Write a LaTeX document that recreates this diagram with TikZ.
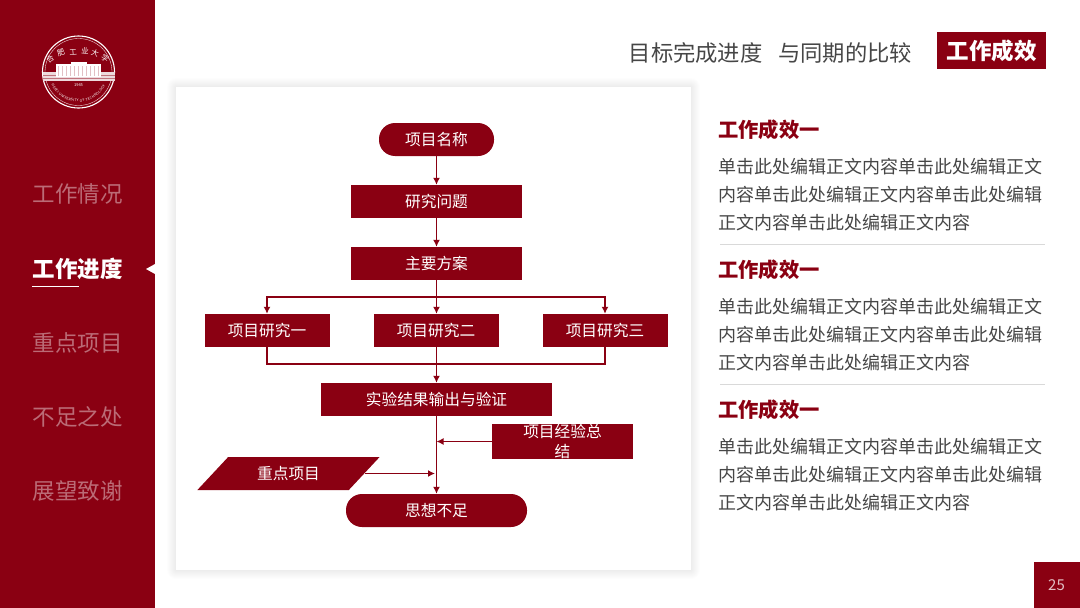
\documentclass[tikz,border=0pt]{standalone}
\usepackage{fontspec}
\setmainfont{Noto Sans CJK SC}
\usepackage{tikz}
\usetikzlibrary{shapes,arrows.meta,positioning,calc,decorations.text}
\definecolor{primaryred}{RGB}{138,0,18}
\definecolor{bodygray}{RGB}{70,70,70}
\tikzset{
    flowbox/.style={fill=primaryred, text=white, inner sep=0pt, align=center, font=\fontsize{15.7}{19.5}\selectfont},
    flowpill/.style={flowbox, rounded corners=16pt},
    flowline/.style={draw=primaryred, line width=1.4pt},
    flowarrow/.style={flowline, -{Latex[length=7pt,width=7pt]}},
    navitem/.style={anchor=west, inner sep=0pt, text=white!42!primaryred, font=\fontsize{22.5}{26}\selectfont},
}
\newcommand{\bodytext}{单击此处编辑正文内容单击此处编辑正文\\内容单击此处编辑正文内容单击此处编辑\\正文内容单击此处编辑正文内容}

\begin{document}
\begin{tikzpicture}[x=1pt, y=-1pt]
    \useasboundingbox (0,0) rectangle (1080,608);
    \fill[white] (0,0) rectangle (1080,608);
    \fill[primaryred] (0,0) rectangle (155,608);

    % logo
    \begin{scope}[shift={(78.5,72)}, x=1pt, y=1pt, white]
        \draw[line width=1.1pt] (0,0) circle (36);
        \draw[line width=0.3pt] (0,0) circle (33.5);
        \foreach \px/\py/\tilt/\ch [count=\i] in {-28.5/13/35/合,-17.5/19/20/肥,-5.5/20/5/工,6.5/21/-5/业,16.5/19/-20/大,26.5/14/-35/学} {
            \node[inner sep=0pt, rotate=\tilt, font=\fontsize{7.5}{8}\selectfont] (seal\i) at (\px,\py) {\ch};
        }
        \fill[white!85!primaryred] (-36,0) rectangle (36,-8.5);
        \foreach \i in {1,2} {
            \fill[primaryred!55] (-36,-\i*2.8) rectangle (36,-\i*2.8-0.4);
        }
        \fill (-22.5,-5) rectangle (22.5,8);
        \fill (-8,8) rectangle (8,10);
        \foreach \i in {-20,-16,...,20} {
            \fill[primaryred!25] (\i-0.5,-3.5) rectangle (\i+0.5,6);
        }
        \node[inner sep=0pt, font=\fontsize{4}{4}\selectfont] (sealyear) at (0,-13) {1945};
        \path[postaction={decorate, decoration={text along path, text align={fit to path}, raise=0pt,
            text={|\fontsize{3.5}{4}\selectfont\color{white}|HEFEI UNIVERSITY OF TECHNOLOGY}}}] (205:30) arc (205:333:30);
    \end{scope}

    % side menu
    \foreach \y/\label [count=\i] in {194/工作情况,343/重点项目,417/不足之处,491/展望致谢} {
        \node[navitem] (nav\i) at (32.5,\y) {\label};
    }
    \node[navitem, text=white, font=\fontsize{22.5}{26}\selectfont\bfseries] (navactive) at (32.5,269) {工作进度};
    \draw[white, line width=1pt] (32,286) -- (79,286);
    \fill[white] (146,269) -- (155,264) -- (155,274) -- cycle;

    % header
    \node[anchor=west, inner sep=0pt, text=bodygray, font=\fontsize{22.3}{26}\selectfont] (headline) at (628.5,53) {目标完成进度};
    \node[anchor=west, inner sep=0pt, text=bodygray, font=\fontsize{22.3}{26}\selectfont] (compare) at (778,53) {与同期的比较};
    \node[fill=primaryred, text=white, inner sep=0pt, minimum width=109pt, minimum height=36.5pt, font=\fontsize{22.5}{26}\selectfont\bfseries] (section) at (991.5,50.5) {工作成效};

    % card with a soft edge
    \foreach \r in {1,2,...,9} {
        \fill[black, opacity=0.009, rounded corners=\r pt] (176-\r,87-\r) rectangle (691+\r,570+\r);
    }
    \node[fill=white, inner sep=0pt, minimum width=515pt, minimum height=483pt] (card) at (433.5,328.5) {};

    % flow chart
    \node[flowpill, minimum width=115pt, minimum height=33pt] (title) at (436.5,139.5) {项目名称};
    \node[flowbox, minimum width=171pt, minimum height=33pt] (question) at (436.5,201.5) {研究问题};
    \node[flowbox, minimum width=171pt, minimum height=33pt] (plan) at (436.5,263.5) {主要方案};
    \node[flowbox, minimum width=125pt, minimum height=33pt] (studya) at (267,330.5) {项目研究一};
    \node[flowbox, minimum width=125pt, minimum height=33pt] (studyb) at (436,330.5) {项目研究二};
    \node[flowbox, minimum width=125pt, minimum height=33pt] (studyc) at (605,330.5) {项目研究三};
    \node[flowbox, minimum width=231pt, minimum height=33pt] (result) at (436.5,399.5) {实验结果输出与验证};
    \node[flowbox, minimum width=140.5pt, minimum height=35pt] (lesson) at (562.5,441.5) {项目经验总\\结};
    \node[flowbox, shape=trapezium, trapezium left angle=42, trapezium right angle=138, trapezium stretches=true,
        minimum width=183pt, minimum height=33pt] (keyitem) at (288.5,473.5) {重点项目};
    \node[flowpill, minimum width=181pt, minimum height=33pt] (closing) at (436.5,510.5) {思想不足};

    \coordinate (busup) at (436.5,297);
    \coordinate (buslow) at (436.5,364);
    \draw[flowarrow] (title) -- (question);
    \draw[flowarrow] (question) -- (plan);
    \draw[flowline] (plan) -- (busup);
    \draw[flowarrow] (busup) -| (studya.north);
    \draw[flowarrow] (busup) -| (studyc.north);
    \draw[flowarrow] (busup) -- (studyb.north -| busup);
    \draw[flowline] (studya.south) |- (buslow);
    \draw[flowline] (studyc.south) |- (buslow);
    \draw[flowarrow] (studyb.south -| buslow) -- (result.north -| buslow);
    \draw[flowarrow] (result) -- (closing);
    \draw[flowarrow] (lesson.west) -- (lesson.west -| result.south);
    \draw[flowarrow] (keyitem.east) -- ($(keyitem.east -| result.south)+(-1.5,0)$);

    % right column
    \foreach \y/\i in {130/1,270/2,410/3} {
        \node[anchor=west, inner sep=0pt, text=primaryred, font=\fontsize{20.3}{24}\selectfont\bfseries] (gain\i) at (718,\y) {工作成效一};
        \node[anchor=north west, inner sep=0pt, text=bodygray, align=left, font=\fontsize{18}{28}\selectfont] (gaintext\i) at (718,\y+28.5) {\bodytext};
    }
    \draw[black!15, line width=0.7pt] (720,244.5) -- (1045,244.5);
    \draw[black!15, line width=0.7pt] (720,384.5) -- (1045,384.5);

    % page number
    \node[fill=primaryred, text=white!75!primaryred, inner sep=0pt, minimum size=46pt, font=\fontsize{15}{18}\selectfont] (page) at (1056.5,585) {25};
\end{tikzpicture}
\end{document}
